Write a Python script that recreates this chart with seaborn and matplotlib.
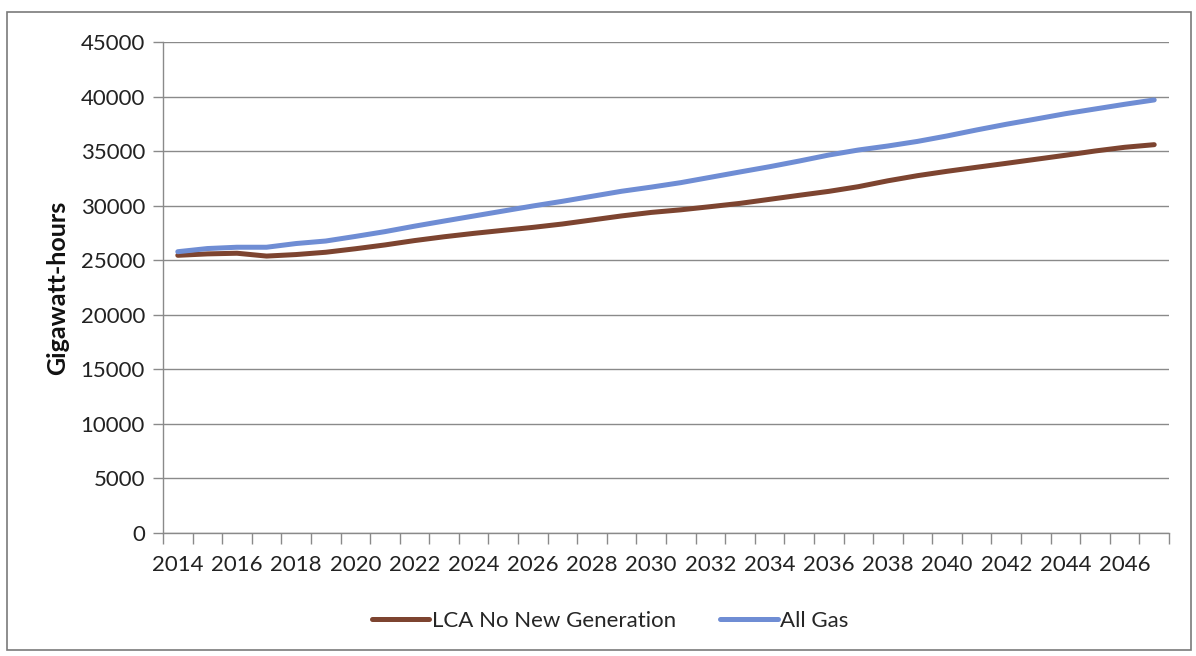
import matplotlib
matplotlib.use("Agg")
import matplotlib.pyplot as plt
from matplotlib.patches import Rectangle
from matplotlib.ticker import FixedLocator, NullFormatter, FixedFormatter
import numpy as np
import pandas as pd
import seaborn as sns

# Annual energy requirement by scenario (GWh)
years = list(range(2014, 2048))
lca_no_new_generation = [
    25450, 25580, 25640, 25380, 25520, 25730, 26050, 26400, 26800, 27150,
    27460, 27740, 28010, 28320, 28690, 29060, 29380, 29620, 29910, 30210,
    30580, 30950, 31310, 31740, 32280, 32750, 33150, 33520, 33880, 34250,
    34620, 35010, 35350, 35590,
]
all_gas = [
    25780, 26070, 26190, 26190, 26530, 26760, 27180, 27620, 28120, 28590,
    29050, 29510, 29970, 30400, 30860, 31320, 31700, 32110, 32600, 33090,
    33570, 34090, 34640, 35100, 35470, 35890, 36390, 36940, 37460, 37940,
    38430, 38860, 39290, 39690,
]
series_names = ["LCA No New Generation", "All Gas"]
series_colors = ["#7d4430", "#6f8dd4"]
y_ticks = list(range(0, 45001, 5000))
x_label_years = list(range(2014, 2047, 2))

df = pd.DataFrame({
    "Year": years * 2,
    "GWh": lca_no_new_generation + all_gas,
    "Scenario": [series_names[0]] * len(years) + [series_names[1]] * len(years),
})

sns.set_theme(style="white")
plt.rcParams["font.family"] = ["Lato", "DejaVu Sans"]

fig = plt.figure(figsize=(11.96, 6.56), dpi=100)
ax = fig.add_axes([163 / 1196, 1 - 533 / 656, (1169 - 163) / 1196, (533 - 42) / 656])

sns.lineplot(
    data=df, x="Year", y="GWh", hue="Scenario",
    palette=dict(zip(series_names, series_colors)),
    linewidth=3.6, ax=ax, legend=False,
)

ax.set_xlim(years[0] - 0.5, years[-1] + 0.5)
ax.set_ylim(0, 45000)

# y axis: gridlines at every 5000
ax.set_yticks(y_ticks)
ax.set_yticklabels([str(v) for v in y_ticks])
ax.yaxis.grid(True, color="#8a8a8a", linewidth=1.0)
ax.xaxis.grid(False)
ax.tick_params(axis="y", which="major", length=7, width=1, color="#8a8a8a",
               pad=6, labelsize=16, labelcolor="#222222", left=True)

# x axis: tick marks on category boundaries, labels centred every other year
ax.xaxis.set_major_locator(FixedLocator([y - 0.5 for y in years] + [years[-1] + 0.5]))
ax.xaxis.set_major_formatter(NullFormatter())
ax.xaxis.set_minor_locator(FixedLocator(x_label_years))
ax.xaxis.set_minor_formatter(FixedFormatter([str(y) for y in x_label_years]))
ax.tick_params(axis="x", which="major", length=8, width=1, color="#8a8a8a", bottom=True)
ax.tick_params(axis="x", which="minor", length=0, pad=16, labelsize=16,
               labelcolor="#222222", bottom=True)

for side in ["top", "right"]:
    ax.spines[side].set_visible(False)
for side in ["left", "bottom"]:
    ax.spines[side].set_color("#8a8a8a")
    ax.spines[side].set_linewidth(1.0)

ax.set_xlabel("")
ax.set_ylabel("Gigawatt-hours", fontsize=18, fontweight="bold", color="#111111", labelpad=8)

handles = [plt.Line2D([0], [0], color=c, linewidth=3.6) for c in series_colors]
fig.legend(handles, series_names, loc="center", bbox_to_anchor=(610 / 1196, 1 - 621 / 656),
           ncol=2, frameon=False, fontsize=16, handlelength=2.6, handletextpad=0.1,
           columnspacing=2.0)

# thin frame around the whole chart
fig.patches.append(Rectangle((7 / 1196, 6 / 656), 1184 / 1196, 638 / 656,
                             transform=fig.transFigure, fill=False,
                             edgecolor="#7a7a7a", linewidth=1.2))

fig.savefig("out.png", dpi=100)
